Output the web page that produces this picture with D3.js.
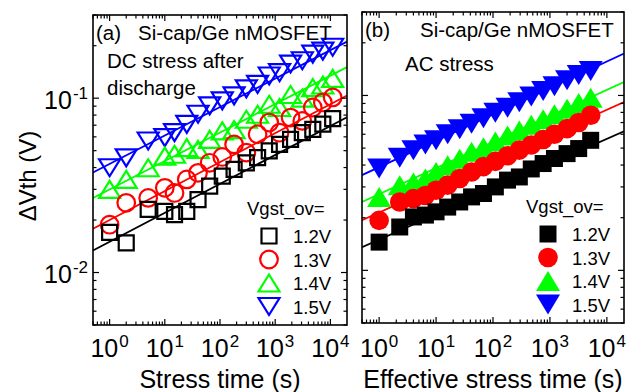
<!DOCTYPE html>
<html lang="en">
<head>
<meta charset="UTF-8">
<title>Vth shift vs stress time</title>
<script src="https://d3js.org/d3.v7.min.js"></script>
<style>
    body { margin: 0; background: #fff; }
    svg { display: block; font-family: "Liberation Sans", Arial, sans-serif; }
</style>
</head>
<body>
<svg id="svg" width="628" height="392"></svg>
<script>
    // ---- data ----
    const levels = ["1.2V", "1.3V", "1.4V", "1.5V"];
    const colors = ["#000000", "#ff0000", "#00ff00", "#0000ff"];
    const shapes = ["square", "circle", "up", "down"];

    // (a) DC stress after discharge
    const timeA = [1, 2, 5, 10, 15, 25, 40, 65, 110, 180, 300, 480, 780, 1200, 1900, 3100, 4800, 7300, 11000];
    const dcV12 = [0.0170, 0.0148, 0.0230, 0.0224, 0.0215, 0.0224, 0.0262, 0.0313, 0.0357, 0.0390, 0.0426, 0.0456, 0.0498, 0.0543, 0.0580, 0.0634, 0.0663, 0.0709, 0.0764];
    const dcV13 = [0.0188, 0.0251, 0.0268, 0.0306, 0.0286, 0.0342, 0.0373, 0.0426, 0.0460, 0.0543, 0.0487, 0.0621, 0.0725, 0.0634, 0.0774, 0.0741, 0.0884, 0.0945, 0.1010];
    const dcV14 = [0.0300, 0.0342, 0.0399, 0.0465, 0.0477, 0.0520, 0.0508, 0.0580, 0.0649, 0.0660, 0.0757, 0.0809, 0.0923, 0.0884, 0.1050, 0.1000, 0.1150, 0.1190, 0.1300];
    const dcV15 = [0.0399, 0.0455, 0.0568, 0.0594, 0.0635, 0.0708, 0.0809, 0.0903, 0.0965, 0.1030, 0.1130, 0.1200, 0.1340, 0.1400, 0.1570, 0.1640, 0.1790, 0.1860, 0.1960];
    const fitPrefA = [0.015, 0.020, 0.030, 0.042];
    const fitSlopeA = [0.166, 0.166, 0.163, 0.163];

    // (b) AC stress
    const timeB = [1, 2.3, 4, 6.5, 10, 16, 26, 42, 68, 110, 180, 290, 470, 760, 1200, 2000, 3200, 5200];
    const acV12 = [0.0145, 0.0177, 0.0202, 0.0207, 0.0216, 0.0230, 0.0246, 0.0263, 0.0275, 0.0300, 0.0328, 0.0342, 0.0380, 0.0408, 0.0436, 0.0465, 0.0497, 0.0554];
    const acV13 = [0.0193, 0.0246, 0.0257, 0.0268, 0.0287, 0.0307, 0.0335, 0.0365, 0.0392, 0.0420, 0.0452, 0.0487, 0.0521, 0.0560, 0.0600, 0.0646, 0.0700, 0.0771];
    const acV14 = [0.0263, 0.0307, 0.0318, 0.0335, 0.0365, 0.0399, 0.0435, 0.0476, 0.0505, 0.0545, 0.0590, 0.0630, 0.0680, 0.0730, 0.0780, 0.0840, 0.0905, 0.0970];
    const acV15 = [0.0382, 0.0440, 0.0486, 0.0525, 0.0555, 0.0600, 0.0640, 0.0690, 0.0740, 0.0795, 0.0850, 0.0915, 0.0985, 0.1060, 0.1130, 0.1220, 0.1310, 0.1380];
    const fitPrefB = [0.015, 0.0214, 0.0273, 0.0389];
    const fitSlopeB = [0.144, 0.147, 0.149, 0.151];

    const xDomain = [0.5, 2e4];
    const yDomain = [0.005, 0.3];
    const xTickExp = [0, 1, 2, 3, 4];
    const yTickExp = [-2, -1];

    const svg = d3.select("#svg");
    svg.append("rect").attr("width", 628).attr("height", 392).attr("fill", "#fff");

    function markerPath(shape, s) {
        const p = d3.path();
        if (shape === "square") {
            p.rect(-s.sq, -s.sq, 2 * s.sq, 2 * s.sq);
        } else if (shape === "up") {
            p.moveTo(0, -s.th); p.lineTo(s.tw, s.th); p.lineTo(-s.tw, s.th); p.closePath();
        } else if (shape === "down") {
            p.moveTo(0, s.th); p.lineTo(s.tw, -s.th); p.lineTo(-s.tw, -s.th); p.closePath();
        } else {
            p.arc(0, 0, s.r, 0, 2 * Math.PI);
        }
        return p.toString();
    }

    function drawPanel(cfg) {
        const x = d3.scaleLog().domain(xDomain).range([cfg.left, cfg.right]);
        const y = d3.scaleLog().domain(yDomain).range([cfg.bottom, cfg.top]);
        const g = svg.append("g");

        const clipId = "clip-" + cfg.id;
        svg.append("clipPath").attr("id", clipId)
            .append("rect")
            .attr("x", cfg.left).attr("y", cfg.top)
            .attr("width", cfg.right - cfg.left).attr("height", cfg.bottom - cfg.top);

        // fitted power-law lines
        const lines = g.append("g").attr("clip-path", `url(#${clipId})`);
        cfg.pref.forEach((a, i) => {
            const pts = xDomain.map(t => [x(t), y(a * Math.pow(t, cfg.slope[i]))]);
            lines.append("path")
                .attr("d", d3.line()(pts))
                .attr("fill", "none")
                .attr("stroke", colors[i])
                .attr("stroke-width", 1.8);
        });

        // markers, highest level first
        for (let i = cfg.values.length - 1; i >= 0; i--) {
            const pts = cfg.time.map((t, k) => [t, cfg.values[i][k]]);
            g.append("g").selectAll("path")
                .data(pts)
                .join("path")
                .attr("transform", d => `translate(${x(d[0])},${y(d[1])})`)
                .attr("d", markerPath(shapes[i], cfg.size))
                .attr("fill", cfg.filled ? colors[i] : "none")
                .attr("stroke", cfg.filled ? "none" : colors[i])
                .attr("stroke-width", 2.2);
        }

        // ticks on all four sides, pointing inward
        const ticks = g.append("g").attr("stroke", "#000").attr("stroke-width", 1.2);
        const xMinor = [], yMinor = [];
        for (let e = -1; e <= 4; e++) for (let m = 2; m <= 9; m++) {
            const v = m * Math.pow(10, e);
            if (v > xDomain[0] * 0.999 && v < xDomain[1]) xMinor.push(v);
        }
        for (let e = -3; e <= -1; e++) for (let m = 2; m <= 9; m++) {
            const v = m * Math.pow(10, e);
            if (v > yDomain[0] * 0.999 && v < yDomain[1] * 1.001) yMinor.push(v);
        }
        const xMajor = xTickExp.map(e => Math.pow(10, e));
        const yMajor = yTickExp.map(e => Math.pow(10, e));
        [[xMajor, 6], [xMinor, 3.5]].forEach(([vals, len]) => {
            vals.forEach(v => {
                ticks.append("line").attr("x1", x(v)).attr("x2", x(v)).attr("y1", cfg.bottom).attr("y2", cfg.bottom - len);
                ticks.append("line").attr("x1", x(v)).attr("x2", x(v)).attr("y1", cfg.top).attr("y2", cfg.top + len);
            });
        });
        [[yMajor, 6], [yMinor, 3.5]].forEach(([vals, len]) => {
            vals.forEach(v => {
                ticks.append("line").attr("y1", y(v)).attr("y2", y(v)).attr("x1", cfg.left).attr("x2", cfg.left + len);
                ticks.append("line").attr("y1", y(v)).attr("y2", y(v)).attr("x1", cfg.right).attr("x2", cfg.right - len);
            });
        });

        g.append("rect")
            .attr("x", cfg.left).attr("y", cfg.top)
            .attr("width", cfg.right - cfg.left).attr("height", cfg.bottom - cfg.top)
            .attr("fill", "none").attr("stroke", "#000").attr("stroke-width", 1.6);

        // x tick labels 10^n
        xTickExp.forEach(e => {
            const t = g.append("text")
                .attr("x", x(Math.pow(10, e))).attr("y", 357)
                .attr("text-anchor", "middle").attr("font-size", 25);
            t.append("tspan").text("10");
            t.append("tspan").attr("dx", 1).attr("dy", -10).attr("font-size", 17).text(e);
        });
        if (cfg.yLabels) {
            yTickExp.forEach(e => {
                const t = g.append("text")
                    .attr("x", cfg.left - 5).attr("y", y(Math.pow(10, e)) + 10.5)
                    .attr("text-anchor", "end").attr("font-size", 25);
                t.append("tspan").text("10");
                t.append("tspan").attr("dx", 1).attr("dy", -10).attr("font-size", 17).text(e);
            });
        }

        g.append("text")
            .attr("x", (cfg.left + cfg.right) / 2 + cfg.xTitleShift).attr("y", 388)
            .attr("text-anchor", "middle").attr("font-size", 25)
            .text(cfg.xTitle);

        // annotations
        cfg.notes.forEach(n => {
            g.append("text").attr("x", n[0]).attr("y", n[1])
                .attr("font-size", 20.5).text(n[2]);
        });

        // legend
        const leg = g.append("g").attr("font-size", 18.5);
        leg.append("text").attr("x", cfg.legX - 22).attr("y", cfg.legY - 21).text("Vgst_ov=");
        levels.forEach((lab, i) => {
            const cy = cfg.legY + i * 23.5;
            leg.append("path")
                .attr("transform", `translate(${cfg.legX},${cy})`)
                .attr("d", markerPath(shapes[i], cfg.size))
                .attr("fill", cfg.filled ? colors[i] : "none")
                .attr("stroke", cfg.filled ? "none" : colors[i])
                .attr("stroke-width", 2.2);
            leg.append("text").attr("x", cfg.legX + 24).attr("y", cy + 7).text(lab);
        });
    }

    drawPanel({
        id: "a", left: 93, right: 347, top: 15, bottom: 325,
        time: timeA, values: [dcV12, dcV13, dcV14, dcV15],
        pref: fitPrefA, slope: fitSlopeA, filled: false,
        size: { sq: 7.5, r: 8.8, tw: 10.5, th: 8.5 },
        yLabels: true, xTitle: "Stress time (s)", xTitleShift: 0,
        notes: [[96, 40, "(a)"], [138, 40, "Si-cap/Ge nMOSFET"], [107, 68, "DC stress after"], [107, 95, "discharge"]],
        legX: 269, legY: 236
    });

    drawPanel({
        id: "b", left: 362, right: 624, top: 12, bottom: 323,
        time: timeB, values: [acV12, acV13, acV14, acV15],
        pref: fitPrefB, slope: fitSlopeB, filled: true,
        size: { sq: 8.5, r: 9.8, tw: 12, th: 10 },
        yLabels: false, xTitle: "Effective stress time (s)", xTitleShift: 0,
        notes: [[365, 37, "(b)"], [420, 37, "Si-cap/Ge nMOSFET"], [405, 71, "AC stress"]],
        legX: 548, legY: 234
    });

    // y axis title
    svg.append("text")
        .attr("transform", "translate(36,176) rotate(-90)")
        .attr("text-anchor", "middle").attr("font-size", 24)
        .text("\u0394Vth (V)");
</script>
</body>
</html>
